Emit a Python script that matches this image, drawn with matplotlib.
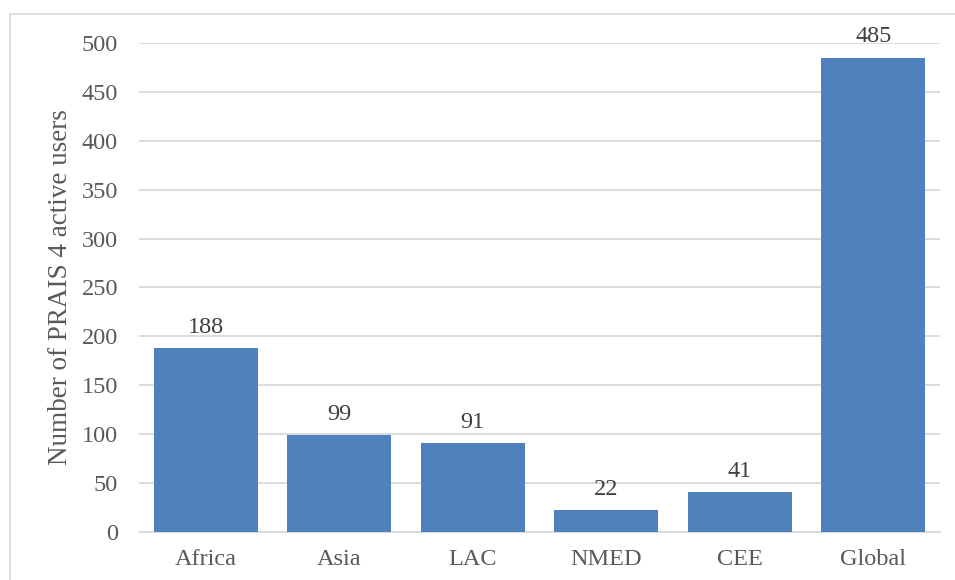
import matplotlib
matplotlib.use("Agg")
import matplotlib.pyplot as plt
from matplotlib.patches import Rectangle

regions = ["Africa", "Asia", "LAC", "NMED", "CEE", "Global"]
users = [188, 99, 91, 22, 41, 485]
yticks = [0, 50, 100, 150, 200, 250, 300, 350, 400, 450, 500]

plt.rcParams['font.family'] = ['Liberation Serif', 'DejaVu Serif']
text_color = "#595959"
label_color = "#404040"
grid_color = "#D9D9D9"
bar_color = "#4F81BD"

fig = plt.figure(figsize=(9.55, 5.8), dpi=100)
ax = fig.add_axes([0.1455, 0.0828, 0.8388, 0.8431])

# outer chart border
fig.patches.append(Rectangle((0.0105, -0.05), 1.1, 0.9759 + 0.05, transform=fig.transFigure,
                             fill=False, edgecolor=grid_color, linewidth=1.2))

x = list(range(len(regions)))
bars = ax.bar(x, users, width=0.78, color=bar_color, zorder=3)
for xi, v in zip(x, users):
    ax.annotate(str(v), (xi, v), xytext=(0, 11), textcoords="offset points",
                ha="center", va="baseline", fontsize=17.5, color=label_color)

ax.set_xlim(-0.5, len(regions) - 0.5)
ax.set_ylim(0, 500)
ax.set_yticks(yticks)
ax.set_xticks(x)
ax.set_xticklabels(regions)
ax.tick_params(axis="both", length=0, labelsize=17.5, labelcolor=text_color)
ax.tick_params(axis="y", pad=15)
ax.tick_params(axis="x", pad=12)
ax.yaxis.grid(True, color=grid_color, linewidth=1.3, zorder=0)
for s in ["top", "right", "left"]:
    ax.spines[s].set_visible(False)
ax.spines["bottom"].set_color(grid_color)
ax.spines["bottom"].set_linewidth(1.3)
ax.set_ylabel("Number of PRAIS 4 active users", fontsize=19.5, color=text_color, labelpad=6)

fig.savefig("out.png", dpi=100)
